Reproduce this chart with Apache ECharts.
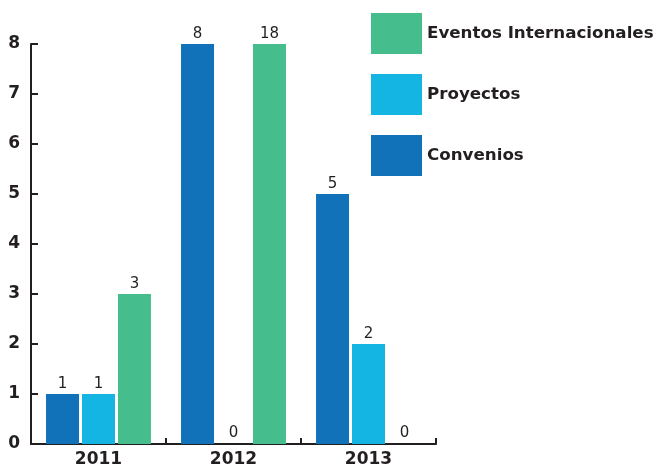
<!DOCTYPE html>
<html><head><meta charset="utf-8">
<script src="https://cdn.jsdelivr.net/npm/echarts@6/dist/echarts.min.js"></script>
<style>html,body{margin:0;padding:0;background:#fff}#c{width:658px;height:468px}</style>
</head><body><div id="c"></div>
<script>
const years = ['2011', '2012', '2013'];
const convenios = [1, 8, 5];
const proyectos = [1, 0, 2];
const eventos = [3, 18, 0];
const yTicks = [0, 1, 2, 3, 4, 5, 6, 7, 8];

const colConv = '#1172BA', colProy = '#14B5E2', colEvt = '#45BD8D';
const ink = '#231F20';
const font = 'DejaVu Sans';

const chart = echarts.init(document.getElementById('c'), null, {renderer: 'canvas'});
const barLabel = {show: true, position: 'top', distance: 2, color: ink, fontFamily: font, fontSize: 15, fontWeight: 'normal'};
function s(name, values, color) {
  const data = values.map(v => v === 0
    ? {value: v, itemStyle: {borderColor: ink, borderWidth: 2}}
    : {value: v});
  return {name, type: 'bar', data, barWidth: 33, barGap: '9%', clip: true,
    itemStyle: {color}, label: barLabel, emphasis: {disabled: true}};
}
chart.setOption({
  animation: false,
  textStyle: {fontFamily: font},
  grid: {left: 31, right: 222, top: 44, bottom: 24},
  legend: {
    data: ['Eventos Internacionales', 'Proyectos', 'Convenios'],
    orient: 'vertical', left: 371, top: 13, padding: 0, itemWidth: 51, itemHeight: 41, itemGap: 20,
    icon: 'rect', textStyle: {fontFamily: font, fontWeight: 'bold', fontSize: 16.7, color: ink},
    selectedMode: false
  },
  xAxis: {
    type: 'category', data: years,
    axisLine: {lineStyle: {color: ink, width: 2}},
    axisTick: {show: true, inside: true, length: 6, lineStyle: {color: ink, width: 2}},
    axisLabel: {fontFamily: font, fontWeight: 'bold', fontSize: 17, color: ink, margin: 7}
  },
  yAxis: {
    type: 'value', min: yTicks[0], max: yTicks[yTicks.length - 1], interval: 1,
    splitLine: {show: false},
    axisLine: {show: true, lineStyle: {color: ink, width: 2}},
    axisTick: {show: true, inside: true, length: 7, lineStyle: {color: ink, width: 2}},
    axisLabel: {fontFamily: font, fontWeight: 'bold', fontSize: 17, color: ink, margin: 11}
  },
  series: [s('Convenios', convenios, colConv), s('Proyectos', proyectos, colProy), s('Eventos Internacionales', eventos, colEvt)]
});
</script></body></html>
